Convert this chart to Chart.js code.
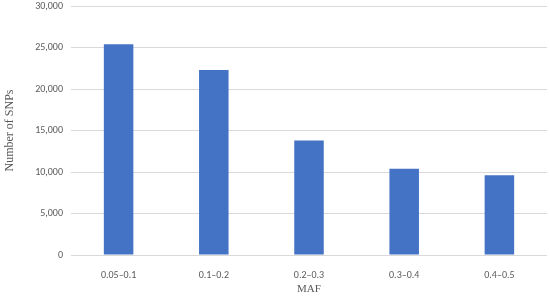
<!DOCTYPE html>
<html lang="en">
<head>
<meta charset="UTF-8">
<title>Number of SNPs by MAF</title>
<script src="https://cdn.jsdelivr.net/npm/chart.js@4.4.4/dist/chart.umd.min.js"></script>
<style>
  html, body { margin: 0; padding: 0; background: #fff; }
  #wrap { width: 550px; height: 296px; }
</style>
</head>
<body>
<div id="wrap"><canvas id="snp-chart" width="550" height="296"></canvas></div>
<script>
// MAF bins and SNP counts
const categories = ['0.05–0.1', '0.1–0.2', '0.2–0.3', '0.3–0.4', '0.4–0.5'];
const snpCounts = [25400, 22300, 13800, 10400, 9600];
const yTicks = [0, 5000, 10000, 15000, 20000, 25000, 30000];

const tickFont = { family: 'Carlito, Calibri, "Liberation Sans", sans-serif', size: 10 };
const titleFont = { family: '"Liberation Serif", "Times New Roman", serif', size: 11 };

const ctx = document.getElementById('snp-chart').getContext('2d');
new Chart(ctx, {
    type: 'bar',
    data: {
        labels: categories,
        datasets: [{
            label: 'Number of SNPs',
            data: snpCounts,
            backgroundColor: '#4472C4',
            categoryPercentage: 1,
            barPercentage: 0.31
        }]
    },
    options: {
        responsive: false,
        animation: false,
        layout: { padding: { top: 6, right: 3, bottom: 0, left: 3 } },
        plugins: { legend: { display: false }, tooltip: { enabled: false } },
        scales: {
            x: {
                afterFit: axis => { axis.height = 41; },
                grid: { display: false },
                border: { display: false },
                ticks: { color: '#595959', font: tickFont, padding: 6 },
                title: { display: true, text: 'MAF', color: '#595959', font: titleFont, padding: { top: 0, bottom: 0 } }
            },
            y: {
                min: 0,
                max: 30000,
                afterBuildTicks: axis => { axis.ticks = yTicks.map(v => ({ value: v })); },
                afterFit: axis => {
                    axis.width = 68;
                    axis.paddingTop = 0;
                    axis.paddingBottom = 0;
                },
                grid: { color: '#d9d9d9', lineWidth: 1, drawTicks: false },
                border: { display: false },
                ticks: {
                    color: '#595959',
                    font: tickFont,
                    padding: 8,
                    callback: v => v.toLocaleString('en-US')
                },
                title: { display: true, text: 'Number of SNPs', color: '#595959', font: { family: titleFont.family, size: 12 }, padding: { top: 0, bottom: 0 } }
            }
        }
    }
});
</script>
</body>
</html>
